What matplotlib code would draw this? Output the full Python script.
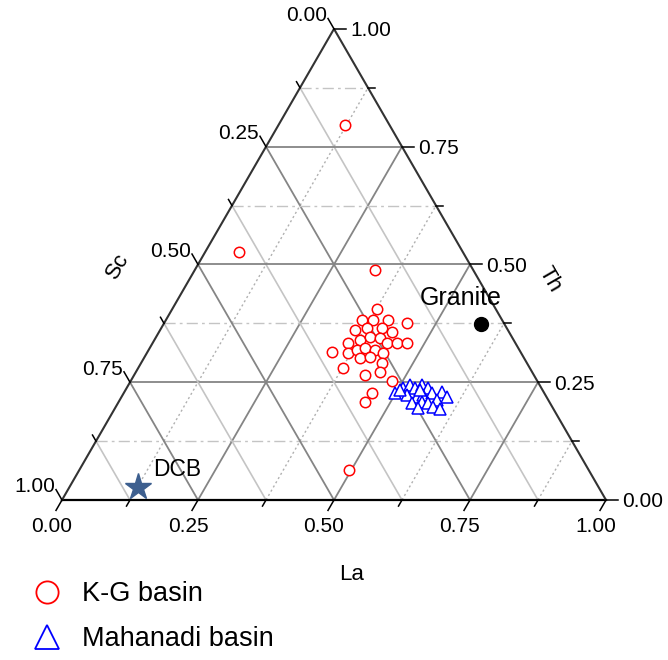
import numpy as np
import matplotlib.pyplot as plt
from matplotlib.lines import Line2D

plt.rcParams['font.family'] = ['Liberation Sans', 'DejaVu Sans']

# ----- data (La, Th fractions; Sc = 1 - La - Th) -----
kg_la = [0.122, 0.062, 0.331, 0.496, 0.376, 0.360, 0.381, 0.408, 0.446, 0.358,
         0.378, 0.406, 0.428, 0.359, 0.378, 0.393, 0.413, 0.431, 0.449, 0.468,
         0.339, 0.370, 0.383, 0.396, 0.416, 0.434, 0.397, 0.414, 0.443, 0.377,
         0.425, 0.449, 0.481, 0.457, 0.453]
kg_th = [0.796, 0.527, 0.488, 0.064, 0.406, 0.382, 0.382, 0.382, 0.376, 0.361,
         0.365, 0.365, 0.357, 0.333, 0.340, 0.346, 0.344, 0.333, 0.333, 0.333,
         0.314, 0.312, 0.318, 0.323, 0.318, 0.312, 0.301, 0.304, 0.291, 0.280,
         0.265, 0.272, 0.253, 0.227, 0.208]

mh_la = [0.499, 0.508, 0.518, 0.530, 0.540, 0.554, 0.523, 0.543, 0.552, 0.567,
         0.584, 0.598, 0.540, 0.558, 0.570, 0.583, 0.557, 0.584, 0.599, 0.504,
         0.541]
mh_th = [0.227, 0.238, 0.244, 0.238, 0.244, 0.238, 0.223, 0.219, 0.223, 0.227,
         0.229, 0.219, 0.206, 0.208, 0.206, 0.212, 0.195, 0.197, 0.193, 0.234,
         0.234]

granite_la, granite_th = 0.583, 0.374
dcb_la, dcb_th = 0.126, 0.028

TICKS = [0.0, 0.25, 0.5, 0.75, 1.0]
H = np.sqrt(3) / 2
PX = 1 / 544  # one pixel in data units


def tern(la, th):
    la = np.asarray(la, dtype=float)
    th = np.asarray(th, dtype=float)
    return la + th / 2, th * H


fig = plt.figure(figsize=(6.68, 6.60), dpi=100)
ax = fig.add_axes([0, 0, 1, 1])
ax.set_xlim(-62 * PX, 606 * PX)
ax.set_ylim(-160 * PX, 500 * PX)
ax.set_aspect('equal')
ax.axis('off')

major = '#858585'
minor = '#c4c4c4'

# ----- grid -----
for v in np.arange(0.125, 1.0, 0.125):
    is_major = abs(v / 0.25 - round(v / 0.25)) < 1e-6
    # constant Th (horizontal)
    x, y = tern([0, 1 - v], [v, v])
    ax.plot(x, y, color=major if is_major else minor, lw=1.3 if is_major else 1.0,
            ls='-' if is_major else (0, (8, 3, 2, 3)), zorder=1)
    # constant La ("/")
    x, y = tern([v, v], [0, 1 - v])
    ax.plot(x, y, color=major if is_major else '#b0b0b0', lw=1.3 if is_major else 1.0,
            ls='-' if is_major else (0, (1.5, 2)), zorder=1)
    # constant Sc ("\")
    x, y = tern([1 - v, 0], [0, 1 - v])
    ax.plot(x, y, color=major if is_major else minor, lw=1.3 if is_major else 1.2,
            ls='-', zorder=1)

# ----- frame -----
x, y = tern([0, 1], [0, 0])
ax.plot(x, y, color='black', lw=1.6, zorder=2)
x, y = tern([1, 0, 0], [0, 1, 0])
ax.plot(x, y, color='#333333', lw=1.5, zorder=2)

# ----- ticks -----
for v in np.arange(0, 1.0001, 0.125):
    L = (12 if abs(v / 0.25 - round(v / 0.25)) < 1e-6 else 7) * PX
    # bottom (La): along "/" outward (down-left)
    x0, y0 = tern(v, 0)
    ax.plot([x0, x0 - L * 0.5], [y0, y0 - L * H], color='black', lw=1.1, zorder=2)
    # right (Th): horizontal outward
    x0, y0 = tern(1 - v, v)
    ax.plot([x0, x0 + L], [y0, y0], color='black', lw=1.1, zorder=2)
    # left (Sc): along "\" outward (up-left)
    x0, y0 = tern(0, 1 - v)
    ax.plot([x0, x0 - L * 0.5], [y0, y0 + L * H], color='black', lw=1.1, zorder=2)

fs = 15
for v in TICKS:
    lab = f'{v:.2f}'
    x0, y0 = tern(v, 0)
    ax.text(x0 - 10 * PX, y0 - 26 * PX, lab, ha='center', va='center', fontsize=fs)
    x0, y0 = tern(1 - v, v)
    ax.text(x0 + 16 * PX, y0 - 2 * PX, lab, ha='left', va='center', fontsize=fs)
    x0, y0 = tern(0, 1 - v)
    ax.text(x0 - 7 * PX, y0 + 13 * PX, lab, ha='right', va='center', fontsize=fs)

ax.text(352 * PX - 62 * PX, -74 * PX, 'La', ha='center', va='center', fontsize=16)
ax.text(118 * PX - 62 * PX, 234 * PX, 'Sc', ha='center', va='center', fontsize=16, rotation=60)
ax.text(550 * PX - 62 * PX, 220 * PX, 'Th', ha='center', va='center', fontsize=16, rotation=-60)

# ----- data -----
x, y = tern(kg_la, kg_th)
ax.plot(x, y, ls='none', marker='o', ms=7.5, mfc='white', mec='red', mew=1.1, zorder=4)
x, y = tern(mh_la, mh_th)
ax.plot(x, y, ls='none', marker='^', ms=8, mfc='white', mec='blue', mew=1.1, zorder=5)

x, y = tern(granite_la, granite_th)
ax.plot(x, y, ls='none', marker='o', ms=10, color='black', zorder=6)
ax.text(x - 61 * PX, y + 26 * PX, 'Granite', ha='left', va='center', fontsize=18)

x, y = tern(dcb_la, dcb_th)
ax.plot(x, y, ls='none', marker='*', ms=20, color='#3d5f8f', zorder=6)
ax.text(x + 15 * PX, y + 17 * PX, 'DCB', ha='left', va='center', fontsize=16.5)

handles = [
    Line2D([], [], ls='none', marker='o', ms=16, mfc='none', mec='red', mew=1.3, label='K-G basin'),
    Line2D([], [], ls='none', marker='^', ms=17, mfc='none', mec='blue', mew=1.3, label='Mahanadi basin'),
]
ax.legend(handles=handles, loc='upper left', bbox_to_anchor=(32 / 668, 1 - 581 / 660),
          frameon=False, fontsize=19.5, handlelength=1.1, handletextpad=0.75,
          labelspacing=0.72, borderpad=0, borderaxespad=0)

fig.savefig('out.png', dpi=100)
